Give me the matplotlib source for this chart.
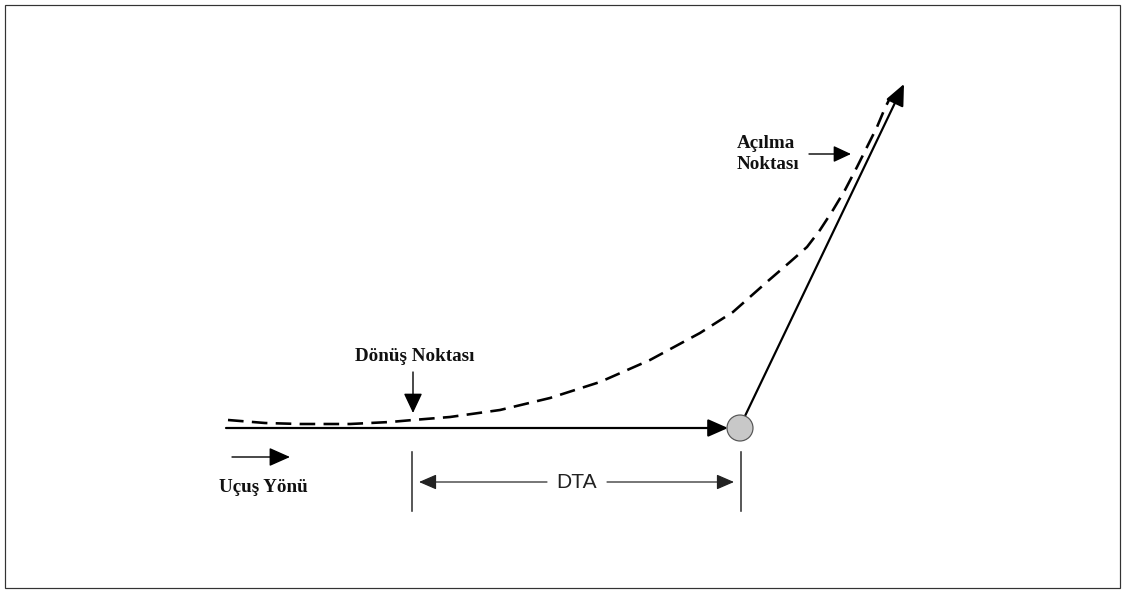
import matplotlib
matplotlib.use("Agg")
import matplotlib.pyplot as plt
from matplotlib.patches import Circle, Rectangle

# ---- data (pixel-space diagram coordinates) ----
curve_x = [228, 265, 300, 350, 390, 413, 450, 500, 550, 600, 650, 700, 733, 768, 790, 807, 820, 833, 845, 857, 867, 877, 885, 890]
curve_y = [420, 423, 424, 424, 422, 420, 417, 410, 398, 382, 360, 333, 312, 281, 262, 247, 230, 210, 190, 167, 147, 127, 108, 98]

track_start = (226, 428)
track_end = (728, 428)
release_point = (740, 428)
release_radius = 13
climb_start = (745, 416)
climb_end = (904, 84)

dta_left_x = 412
dta_right_x = 741
dta_y = 482
dta_tick_top = 452
dta_tick_bottom = 511

labels_text = {
    "turn": "Dönüş Noktası",
    "dir": "Uçuş Yönü",
    "dta": "DTA",
    "open1": "Açılma",
    "open2": "Noktası",
}

W, H = 1124, 590
fig = plt.figure(figsize=(W / 72, H / 72), dpi=72)
ax = fig.add_axes([0, 0, 1, 1])
ax.set_xlim(0, W)
ax.set_ylim(H, 0)
ax.axis("off")

# frame
ax.add_patch(Rectangle((4.5, 4.5), 1115, 583, fill=False, edgecolor="#333333", lw=1.2))

serif = ["Liberation Serif", "DejaVu Serif"]
sans = ["Liberation Sans", "DejaVu Sans"]
txt_color = "#111111"


def arrow(p0, p1, lw=1.6, color="black", hl=16, hw=14, headcolor=None):
    ax.annotate("", xy=p1, xytext=p0, xycoords="data",
                arrowprops=dict(arrowstyle=f"-|>,head_length={hl},head_width={hw/2}",
                                mutation_scale=1, lw=lw, color=color,
                                shrinkA=0, shrinkB=0))


# dashed flight path
ax.plot(curve_x, curve_y, color="black", lw=2.6, dashes=(6, 3.2),
        solid_capstyle="butt", dash_capstyle="butt", solid_joinstyle="round",
        dash_joinstyle="round", zorder=3)

# main track arrow
arrow(track_start, track_end, lw=2.2, hl=17, hw=15)

# climb line with arrow
arrow(climb_start, climb_end, lw=2.2, hl=18, hw=16)

# release point circle
ax.add_patch(Circle(release_point, release_radius, facecolor="#c8c8c8",
                    edgecolor="#555555", lw=1.2, zorder=5))

# Dönüş Noktası
ax.text(415, 361, labels_text["turn"], fontsize=19, fontweight="bold",
        family=serif, color=txt_color, ha="center", va="baseline")
arrow((413, 372), (413, 413), lw=1.4, hl=17, hw=16)

# Uçuş Yönü
arrow((232, 457), (290, 457), lw=1.4, hl=18, hw=16)
ax.text(219, 492, labels_text["dir"], fontsize=19, fontweight="bold",
        family=serif, color=txt_color, ha="left", va="baseline")

# DTA dimension
for xx in (dta_left_x, dta_right_x):
    ax.plot([xx, xx], [dta_tick_top, dta_tick_bottom], color="#333333", lw=1.6)
arrow((547, dta_y), (419, dta_y), lw=1.2, color="#222222", hl=15, hw=13)
arrow((607, dta_y), (734, dta_y), lw=1.2, color="#222222", hl=15, hw=13)
ax.text(577, dta_y + 1, labels_text["dta"], fontsize=21, family=sans,
        color="#222222", ha="center", va="center")

# Açılma Noktası
ax.text(737, 148, labels_text["open1"], fontsize=19, fontweight="bold",
        family=serif, color=txt_color, ha="left", va="baseline")
ax.text(737, 169, labels_text["open2"], fontsize=19, fontweight="bold",
        family=serif, color=txt_color, ha="left", va="baseline")
arrow((809, 154), (851, 154), lw=1.4, hl=15, hw=14)

fig.savefig("out.png", dpi=72, facecolor="white")
